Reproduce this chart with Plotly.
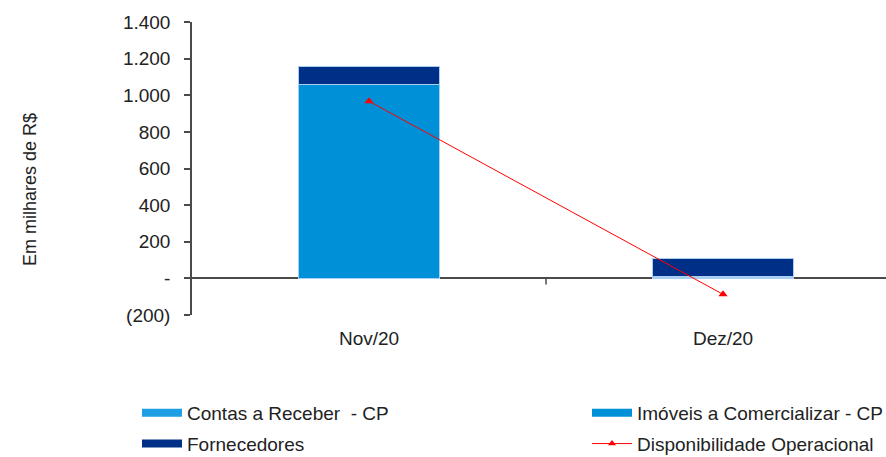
import plotly.graph_objects as go

categories = ["Nov/20", "Dez/20"]
contas_receber = [0, 6]
imoveis = [1060, 4]
fornecedores = [95, 100]
disponibilidade = [967, -87]

y_tickvals = [-200, 0, 200, 400, 600, 800, 1000, 1200, 1400]
y_ticktext = ["(200)", "-", "200", "400", "600", "800", "1.000", "1.200", "1.400"]

C_CONTAS = "#1E9FE3"
C_IMOVEIS = "#0090D8"
C_FORN = "#002F87"
C_DISP = "#FF0000"
EDGE = "#A9CFF0"
AXIS = "#4A4A4A"
TXT = "#222222"
FONT = "Liberation Sans, Arial, sans-serif"

PLOT_L, PLOT_T, PLOT_B = 192, 22, 315
PLOT_H = PLOT_B - PLOT_T
W, H = 886, 457
CAT_PX = 354
plot_w = W - PLOT_L
xmax = -0.5 + plot_w / CAT_PX

fig = go.Figure()
for name, vals, col in [("Contas a Receber  - CP", contas_receber, C_CONTAS),
                        ("Imóveis a Comercializar - CP", imoveis, C_IMOVEIS),
                        ("Fornecedores", fornecedores, C_FORN)]:
    fig.add_trace(go.Bar(x=categories, y=vals, name=name, marker_color=col,
                         marker_line=dict(color=EDGE, width=1), width=0.4,
                         showlegend=False))
fig.add_trace(go.Scatter(x=categories, y=disponibilidade, mode="lines+markers",
                         line=dict(color=C_DISP, width=1),
                         marker=dict(symbol="triangle-up", size=8, color=C_DISP),
                         showlegend=False, name="Disponibilidade Operacional"))

# legend entries (wide rectangle symbols), two columns as two legends
legend_items = [("Contas a Receber  - CP", C_CONTAS, "legend", "g1"),
                ("Fornecedores", C_FORN, "legend", "g2"),
                ("Imóveis a Comercializar - CP", C_IMOVEIS, "legend2", "g3")]
for name, col, lg, grp in legend_items:
    fig.add_trace(go.Scatter(x=[None], y=[None], mode="lines", name=name,
                             line=dict(color=col, width=8), legend=lg, legendgroup=grp))
fig.add_trace(go.Scatter(x=[None], y=[None], mode="lines+markers",
                         name="Disponibilidade Operacional",
                         line=dict(color=C_DISP, width=1), legend="legend2", legendgroup="g4",
                         marker=dict(symbol="triangle-up", size=7, color=C_DISP)))

fig.add_shape(type="line", xref="x", yref="y", x0=0.5, x1=0.5,
              ysizemode="pixel", yanchor=0, y0=0, y1=-6,
              line=dict(color=AXIS, width=1.5))

fig.add_annotation(text="Em milhares de R$", textangle=-90, xref="paper", yref="paper",
                   x=-(192 - 30) / plot_w, y=(315 - 190) / PLOT_H, showarrow=False,
                   xanchor="center", yanchor="middle",
                   font=dict(size=18, color=TXT, family=FONT))

leg_common = dict(orientation="v", xref="container", yref="container",
                  xanchor="left", yanchor="top", tracegroupgap=3,
                  font=dict(size=19, family=FONT, color=TXT), itemwidth=40,
                  bgcolor="rgba(0,0,0,0)")

fig.update_layout(
    width=W, height=H, barmode="stack",
    margin=dict(l=PLOT_L, r=0, t=PLOT_T, b=H - PLOT_B, autoexpand=False),
    plot_bgcolor="white", paper_bgcolor="white",
    font=dict(family=FONT, size=19, color=TXT),
    xaxis=dict(type="category", range=[-0.5, xmax], showline=False, ticks="",
               showgrid=False, ticklabelstandoff=10, tickfont=dict(size=19),
               automargin=False),
    yaxis=dict(range=[-200, 1400], tickvals=y_tickvals, ticktext=y_ticktext,
               showgrid=False, showline=True, linecolor=AXIS, linewidth=1.5,
               ticks="outside", ticklen=6, tickcolor=AXIS, tickwidth=1.5,
               zeroline=True, zerolinecolor=AXIS, zerolinewidth=1.5,
               ticklabelstandoff=10, tickfont=dict(size=19), automargin=False),
    legend=dict(x=(142 - 5) / W, y=1 - 394 / H, traceorder="grouped", **leg_common),
    legend2=dict(x=(592 - 5) / W, y=1 - 394 / H, traceorder="grouped", **leg_common),
)

fig.write_html("out.html", config={"displayModeBar": False},
               post_script="document.body.style.margin='0';document.body.style.overflow='hidden';")
